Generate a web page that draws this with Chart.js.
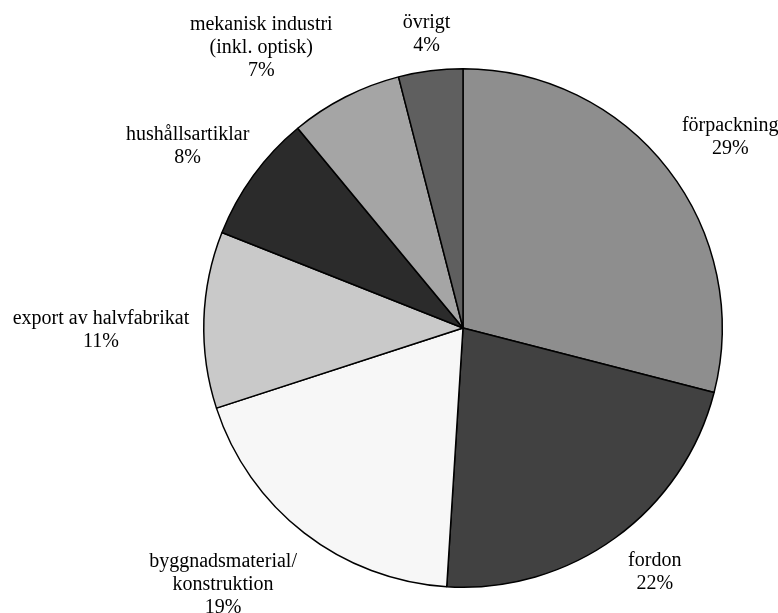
<!DOCTYPE html>
<html lang="sv">
<head>
<meta charset="utf-8">
<title>Användningsområden</title>
<script src="https://cdn.jsdelivr.net/npm/chart.js@4/dist/chart.umd.min.js"></script>
<style>
  html, body { margin: 0; padding: 0; background: #ffffff; }
  #wrap { width: 778px; height: 613px; position: relative; overflow: hidden; }
</style>
</head>
<body>
<div id="wrap"><canvas id="chart" width="778" height="613"></canvas></div>
<script>
// Kategorier (radbrytningar som i etiketterna)
const categories = [
  ['förpackning'],
  ['fordon'],
  ['byggnadsmaterial/', 'konstruktion'],
  ['export av halvfabrikat'],
  ['hushållsartiklar'],
  ['mekanisk industri', '(inkl. optisk)'],
  ['övrigt']
];
// Andel i procent
const shares = [29, 22, 19, 11, 8, 7, 4];
// Gråtoner per sektor
const sliceColors = ['#8e8e8e', '#414141', '#f7f7f7', '#c9c9c9', '#2b2b2b', '#a5a5a5', '#5f5f5f'];

const FONT = '20px "Liberation Serif", "Times New Roman", serif';
const LINE_H = 23;
const LABEL_GAP = 14;
// Finjustering av etiketternas läge (px) så att de inte krockar
const labelNudge = [[10, 9], [11, -5], [-28, -16], [0, 14], [-3, 16], [-49, 19], [1, 3]];

// Etiketter utanför cirkeln, längs sektorns mittvinkel
const outsideLabels = {
  id: 'outsideLabels',
  afterDatasetsDraw(chart) {
    const ctx = chart.ctx;
    const meta = chart.getDatasetMeta(0);
    ctx.save();
    ctx.font = FONT;
    ctx.fillStyle = '#000000';
    ctx.textAlign = 'center';
    ctx.textBaseline = 'middle';
    meta.data.forEach((arc, i) => {
      const lines = categories[i].concat([shares[i] + '%']);
      const w = Math.max(...lines.map(t => ctx.measureText(t).width));
      const h = lines.length * LINE_H;
      const mid = (arc.startAngle + arc.endAngle) / 2;
      const dx = Math.cos(mid), dy = Math.sin(mid);
      const extent = Math.abs(dx) * w / 2 + Math.abs(dy) * h / 2;
      const d = arc.outerRadius + LABEL_GAP + extent;
      const cx = arc.x + dx * d + labelNudge[i][0];
      const cy = arc.y + dy * d + labelNudge[i][1];
      lines.forEach((t, k) => {
        ctx.fillText(t, cx, cy - h / 2 + LINE_H * (k + 0.5));
      });
    });
    ctx.restore();
  }
};

new Chart(document.getElementById('chart'), {
  type: 'pie',
  data: {
    labels: categories.map(c => c.join(' ')),
    datasets: [{
      data: shares,
      backgroundColor: sliceColors,
      borderColor: '#000000',
      borderWidth: 1.5
    }]
  },
  options: {
    responsive: false,
    animation: false,
    devicePixelRatio: 1,
    layout: { padding: { left: 203, right: 55, top: 68, bottom: 25 } },
    plugins: {
      legend: { display: false },
      tooltip: { enabled: false }
    }
  },
  plugins: [outsideLabels]
});
</script>
</body>
</html>
